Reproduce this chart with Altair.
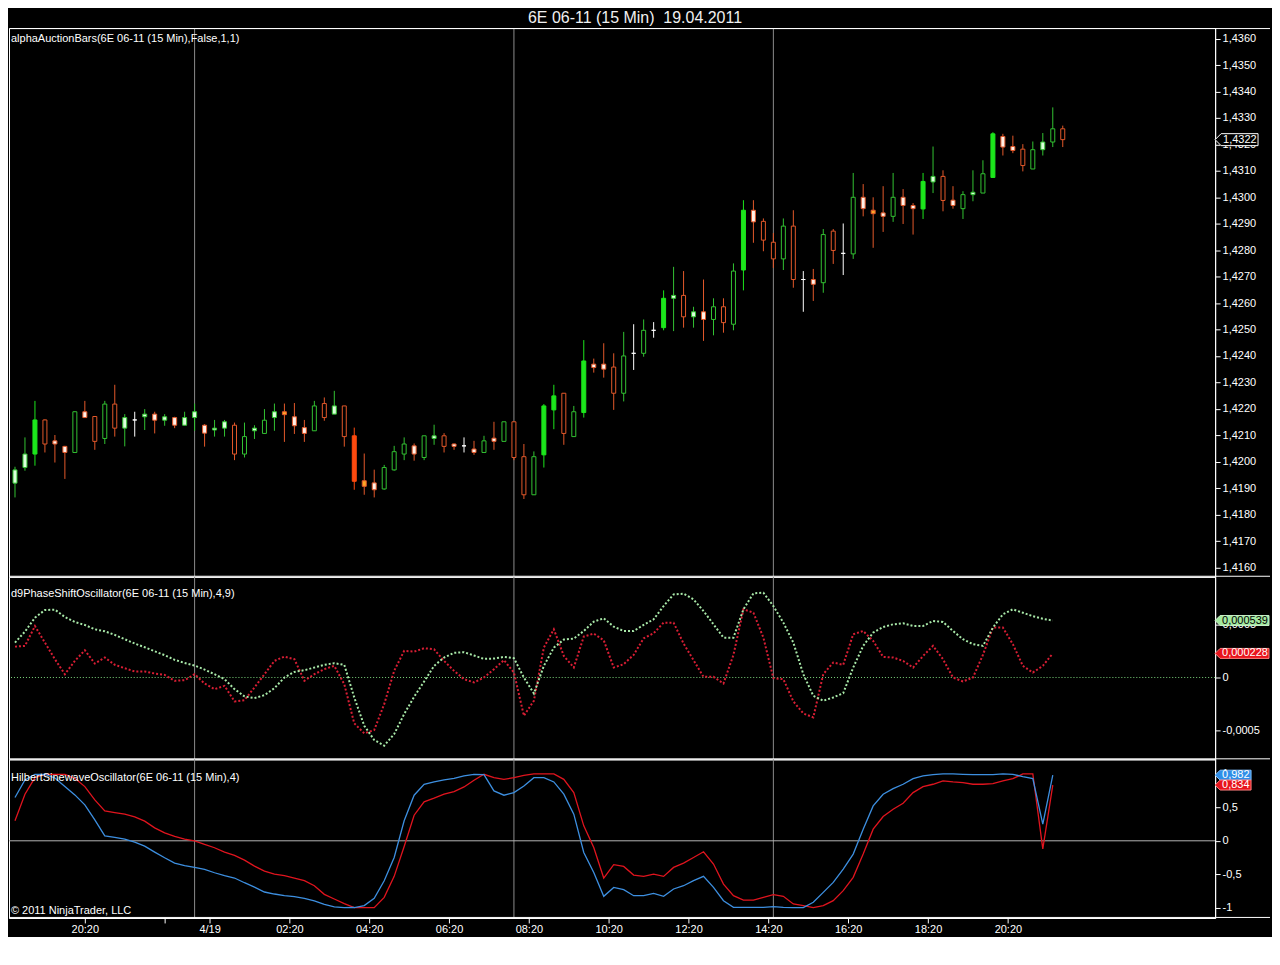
import altair as alt
import pandas as pd

TITLE = "6E 06-11 (15 Min)\u00a0 19.04.2011"
PANEL1 = "alphaAuctionBars(6E 06-11 (15 Min),False,1,1)"
PANEL2 = "d9PhaseShiftOscillator(6E 06-11 (15 Min),4,9)"
PANEL3 = "HilbertSinewaveOscillator(6E 06-11 (15 Min),4)"
COPYRIGHT = "\u00a9 2011 NinjaTrader, LLC"

opens = [1.41919, 1.41978, 1.42029, 1.42158, 1.42079, 1.42058, 1.42035, 1.42189, 1.42171, 1.42088,
         1.42218, 1.42127, 1.42158, 1.42170, 1.42180, 1.42157, 1.42167, 1.42138, 1.42167, 1.42138,
         1.42120, 1.42127, 1.42138, 1.42029, 1.42117, 1.42107, 1.42167, 1.42189, 1.42170, 1.42129,
         1.42117, 1.42220, 1.42180, 1.42211, 1.42098, 1.41928, 1.41920, 1.41897, 1.41969, 1.42029,
         1.42060, 1.42016, 1.42088, 1.42098, 1.42067, 1.42060, 1.42048, 1.42035, 1.42089, 1.42077,
         1.42151, 1.42019, 1.41875, 1.42026, 1.42196, 1.42259, 1.42095, 1.42186, 1.42369, 1.42369,
         1.42358, 1.42259, 1.42410, 1.42410, 1.42497, 1.42507, 1.42618, 1.42629, 1.42548, 1.42567,
         1.42538, 1.42586, 1.42520, 1.42725, 1.42951, 1.42909, 1.42830, 1.42767, 1.42891, 1.42689,
         1.42689, 1.42677, 1.42872, 1.42788, 1.42786, 1.43000, 1.42951, 1.42941, 1.42928, 1.43000,
         1.42969, 1.42956, 1.43058, 1.43079, 1.42989, 1.42957, 1.43010, 1.43016, 1.43075, 1.43230,
         1.43192, 1.43182, 1.43107, 1.43180, 1.43209, 1.43259]
highs = [1.41981, 1.42092, 1.42230, 1.42160, 1.42101, 1.42060, 1.42190, 1.42230, 1.42171, 1.42230,
         1.42291, 1.42180, 1.42189, 1.42199, 1.42189, 1.42180, 1.42170, 1.42189, 1.42220, 1.42142,
         1.42158, 1.42158, 1.42148, 1.42148, 1.42138, 1.42199, 1.42220, 1.42220, 1.42222, 1.42158,
         1.42230, 1.42243, 1.42268, 1.42211, 1.42129, 1.42031, 1.41970, 1.41988, 1.42060, 1.42092,
         1.42069, 1.42098, 1.42140, 1.42108, 1.42069, 1.42092, 1.42079, 1.42098, 1.42151, 1.42151,
         1.42151, 1.42067, 1.42039, 1.42218, 1.42291, 1.42259, 1.42211, 1.42460, 1.42390, 1.42448,
         1.42410, 1.42491, 1.42520, 1.42538, 1.42528, 1.42648, 1.42737, 1.42721, 1.42586, 1.42689,
         1.42618, 1.42618, 1.42750, 1.42989, 1.42989, 1.42920, 1.42865, 1.42920, 1.42951, 1.42721,
         1.42729, 1.42880, 1.42880, 1.42901, 1.43092, 1.43050, 1.43000, 1.43042, 1.43092, 1.43031,
         1.42978, 1.43092, 1.43192, 1.43102, 1.43042, 1.43023, 1.43102, 1.43140, 1.43246, 1.43240,
         1.43233, 1.43201, 1.43211, 1.43243, 1.43340, 1.43271]
lows = [1.41865, 1.41966, 1.41985, 1.42035, 1.41997, 1.41935, 1.42035, 1.42167, 1.42045, 1.42067,
        1.42095, 1.42058, 1.42095, 1.42120, 1.42107, 1.42136, 1.42127, 1.42138, 1.42117, 1.42057,
        1.42095, 1.42095, 1.42006, 1.42016, 1.42086, 1.42107, 1.42117, 1.42075, 1.42105, 1.42075,
        1.42117, 1.42155, 1.42180, 1.42057, 1.41894, 1.41875, 1.41865, 1.41894, 1.41966, 1.42006,
        1.42004, 1.42006, 1.42064, 1.42035, 1.42045, 1.42035, 1.42026, 1.42035, 1.42045, 1.42077,
        1.42006, 1.41859, 1.41875, 1.41978, 1.42123, 1.42064, 1.42095, 1.42167, 1.42337, 1.42318,
        1.42196, 1.42228, 1.42347, 1.42397, 1.42469, 1.42497, 1.42494, 1.42507, 1.42507, 1.42457,
        1.42478, 1.42488, 1.42497, 1.42648, 1.42828, 1.42796, 1.42733, 1.42725, 1.42658, 1.42567,
        1.42608, 1.42639, 1.42748, 1.42706, 1.42767, 1.42928, 1.42809, 1.42869, 1.42907, 1.42899,
        1.42859, 1.42918, 1.43016, 1.42947, 1.42957, 1.42918, 1.42985, 1.43016, 1.43075, 1.43158,
        1.43167, 1.43098, 1.43107, 1.43158, 1.43190, 1.43190]
closes = [1.41969, 1.42029, 1.42158, 1.42067, 1.42067, 1.42035, 1.42189, 1.42167, 1.42077, 1.42218,
          1.42127, 1.42167, 1.42158, 1.42180, 1.42157, 1.42170, 1.42138, 1.42167, 1.42189, 1.42108,
          1.42127, 1.42151, 1.42029, 1.42095, 1.42127, 1.42157, 1.42189, 1.42178, 1.42136, 1.42107,
          1.42211, 1.42167, 1.42211, 1.42095, 1.41926, 1.41907, 1.41894, 1.41978, 1.42038, 1.42067,
          1.42029, 1.42098, 1.42098, 1.42058, 1.42058, 1.42060, 1.42035, 1.42079, 1.42077, 1.42151,
          1.42016, 1.41875, 1.42019, 1.42211, 1.42249, 1.42107, 1.42189, 1.42381, 1.42356, 1.42350,
          1.42259, 1.42400, 1.42410, 1.42497, 1.42497, 1.42618, 1.42629, 1.42548, 1.42567, 1.42538,
          1.42586, 1.42526, 1.42721, 1.42951, 1.42907, 1.42838, 1.42767, 1.42891, 1.42689, 1.42689,
          1.42671, 1.42859, 1.42799, 1.42788, 1.43000, 1.42957, 1.42938, 1.42928, 1.43000, 1.42969,
          1.42957, 1.43060, 1.43079, 1.42988, 1.42969, 1.43010, 1.43019, 1.43089, 1.43240, 1.43190,
          1.43177, 1.43120, 1.43180, 1.43209, 1.43259, 1.43218]
kinds = ["upSmall", "upSmall", "upStrong", "down", "downSmall", "downSmall", "up", "downSmall", "down", "up",
         "down", "upSmall", "doji", "upSmall", "downSmall", "upSmall", "downSmall", "upSmall", "upSmall", "downSmall",
         "upSmall", "upSmall", "down", "up", "upSmall", "up", "upSmall", "downMid", "downSmall", "downSmall",
         "up", "down", "upSmall", "down", "downStrong", "downMid", "downSmall", "up", "up", "up",
         "downSmall", "up", "upSmall", "down", "downSmall", "doji", "downSmall", "up", "downSmall", "up",
         "down", "down", "up", "upStrong", "upStrong", "down", "up", "upStrong", "downSmall", "downSmall",
         "down", "up", "doji", "up", "doji", "upStrong", "upSmall", "down", "upSmall", "downSmall",
         "up", "down", "up", "upStrong", "downSmall", "down", "down", "up", "down", "doji",
         "downSmall", "up", "down", "doji", "up", "downSmall", "downMid", "downSmall", "up", "downSmall",
         "downSmall", "upStrong", "upSmall", "down", "downSmall", "up", "upSmall", "up", "upStrong", "downSmall",
         "downSmall", "down", "up", "upSmall", "up", "down"]

pso_fast = [0.000330, 0.000434, 0.000566, 0.000638, 0.000642, 0.000572, 0.000525, 0.000497, 0.000456, 0.000437,
            0.000403, 0.000362, 0.000321, 0.000286, 0.000248, 0.000211, 0.000167, 0.000138, 0.000113, 0.000075,
            0.000031, -0.000016, -0.000110, -0.000179, -0.000195, -0.000167, -0.000101, 0.000000, 0.000053, 0.000069,
            0.000094, 0.000120, 0.000135, 0.000120, -0.000189, -0.000456, -0.000591, -0.000645, -0.000535, -0.000346,
            -0.000182, -0.000038, 0.000110, 0.000189, 0.000233, 0.000239, 0.000208, 0.000176, 0.000179, 0.000195,
            0.000182, 0.000000, -0.000151, 0.000110, 0.000283, 0.000359, 0.000368, 0.000440, 0.000528, 0.000560,
            0.000481, 0.000440, 0.000440, 0.000497, 0.000550, 0.000676, 0.000786, 0.000793, 0.000739, 0.000629,
            0.000503, 0.000377, 0.000377, 0.000645, 0.000796, 0.000802, 0.000676, 0.000519, 0.000330, 0.000031,
            -0.000173, -0.000220, -0.000189, -0.000148, 0.000094, 0.000299, 0.000425, 0.000478, 0.000503, 0.000513,
            0.000487, 0.000487, 0.000535, 0.000525, 0.000440, 0.000362, 0.000315, 0.000299, 0.000472, 0.000598,
            0.000645, 0.000613, 0.000580, 0.000555, 0.000539]
pso_slow = [0.000292, 0.000299, 0.000487, 0.000330, 0.000173, 0.000031, 0.000157, 0.000258, 0.000132, 0.000189,
            0.000120, 0.000088, 0.000057, 0.000057, 0.000038, 0.000025, -0.000031, -0.000025, 0.000031, -0.000057,
            -0.000110, -0.000079, -0.000226, -0.000214, -0.000094, 0.000031, 0.000157, 0.000198, 0.000173, -0.000031,
            0.000031, 0.000079, 0.000110, -0.000063, -0.000434, -0.000528, -0.000497, -0.000252, 0.000063, 0.000252,
            0.000245, 0.000277, 0.000267, 0.000157, 0.000063, -0.000016, -0.000047, 0.000000, 0.000079, 0.000164,
            0.000047, -0.000362, -0.000220, 0.000283, 0.000456, 0.000204, 0.000094, 0.000387, 0.000415, 0.000352,
            0.000094, 0.000126, 0.000214, 0.000371, 0.000418, 0.000519, 0.000519, 0.000321, 0.000164, 0.000006,
            0.000006, -0.000057, 0.000214, 0.000645, 0.000613, 0.000377, -0.000006, -0.000016, -0.000226, -0.000340,
            -0.000377, 0.000031, 0.000142, 0.000120, 0.000409, 0.000440, 0.000346, 0.000195, 0.000189, 0.000157,
            0.000094, 0.000204, 0.000299, 0.000173, 0.000000, -0.000038, 0.000000, 0.000214, 0.000472, 0.000472,
            0.000315, 0.000110, 0.000047, 0.000110, 0.000228]

sine_blue = [0.647, 0.910, 0.995, 0.995, 0.940, 0.811, 0.687, 0.537, 0.313, 0.075,
             0.050, 0.025, -0.020, -0.080, -0.169, -0.254, -0.333, -0.373, -0.398, -0.428,
             -0.478, -0.522, -0.557, -0.627, -0.692, -0.766, -0.796, -0.821, -0.836, -0.861,
             -0.900, -0.950, -0.990, -1.000, -0.998, -0.970, -0.861, -0.597, -0.249, 0.299,
             0.682, 0.846, 0.881, 0.910, 0.935, 0.970, 0.995, 0.990, 0.746, 0.682,
             0.721, 0.821, 0.945, 0.945, 0.881, 0.697, 0.398, -0.174, -0.473, -0.831,
             -0.697, -0.731, -0.821, -0.821, -0.786, -0.831, -0.721, -0.672, -0.597, -0.532,
             -0.697, -0.896, -0.995, -0.995, -0.995, -0.995, -0.985, -0.995, -1.000, -1.000,
             -0.920, -0.771, -0.622, -0.423, -0.199, 0.174, 0.522, 0.697, 0.781, 0.846,
             0.930, 0.970, 0.990, 1.000, 1.000, 0.995, 0.990, 0.990, 0.990, 1.000,
             0.995, 0.960, 0.930, 0.250, 0.982]
sine_red = [0.299, 0.697, 0.945, 0.995, 0.995, 0.995, 0.935, 0.811, 0.612, 0.448,
            0.423, 0.398, 0.358, 0.294, 0.194, 0.119, 0.065, 0.025, 0.000, -0.055,
            -0.104, -0.169, -0.219, -0.289, -0.378, -0.453, -0.498, -0.522, -0.557, -0.597,
            -0.672, -0.801, -0.871, -0.940, -1.000, -1.000, -1.000, -0.846, -0.532, -0.085,
            0.383, 0.582, 0.637, 0.697, 0.736, 0.806, 0.905, 0.995, 0.945, 0.920,
            0.945, 0.980, 1.000, 1.000, 1.000, 0.920, 0.721, 0.224, -0.100, -0.557,
            -0.358, -0.383, -0.512, -0.532, -0.498, -0.532, -0.398, -0.333, -0.249, -0.164,
            -0.348, -0.647, -0.821, -0.886, -0.886, -0.846, -0.806, -0.831, -0.945, -0.970,
            -1.000, -0.970, -0.896, -0.746, -0.547, -0.199, 0.174, 0.363, 0.473, 0.562,
            0.721, 0.811, 0.846, 0.896, 0.881, 0.871, 0.846, 0.846, 0.856, 0.896,
            0.930, 1.000, 1.000, -0.120, 0.834]

tick_pos = [7, 15, 19.5, 27.5, 35.5, 43.5, 51.5, 59.5, 67.5, 75.5, 83.5, 91.5, 99.5]
tick_text = ["20:20", "", "4/19", "02:20", "04:20", "06:20", "08:20", "10:20",
             "12:20", "14:20", "16:20", "18:20", "20:20"]
session_lines = [18, 50, 76]
price_ticks = [1.416, 1.417, 1.418, 1.419, 1.420, 1.421, 1.422, 1.423, 1.424, 1.425, 1.426,
               1.427, 1.428, 1.429, 1.430, 1.431, 1.432, 1.433, 1.434, 1.435, 1.436]
pso_ticks = [-0.0005, 0, 0.0005]
hso_ticks = [-1, -0.5, 0, 0.5, 1]

# ---------------- layout / style ----------------
FONT = "Liberation Sans"
W = 1209
H1, H2, H3 = 550, 183, 159
X_DOMAIN = [-0.6, 120.27]
PRICE_DOMAIN = [1.41565, 1.43640]
PSO_DOMAIN = [-0.000774, 0.000953]
HSO_DOMAIN = [-1.154, 1.219]
FULL = 1264

xs = alt.Scale(domain=X_DOMAIN, nice=False, zero=False)
ps = alt.Scale(domain=PRICE_DOMAIN, nice=False, zero=False)
os_ = alt.Scale(domain=PSO_DOMAIN, nice=False, zero=False)
hs = alt.Scale(domain=HSO_DOMAIN, nice=False, zero=False)

price_axis = alt.Axis(orient="right", values=price_ticks, title=None,
                      labelExpr="replace(format(datum.value, '.4f'), '.', ',')")
pso_axis = alt.Axis(orient="right", values=pso_ticks, title=None,
                    labelExpr="replace(toString(datum.value), '.', ',')")
hso_axis = alt.Axis(orient="right", values=hso_ticks, title=None,
                    labelExpr="replace(toString(datum.value), '.', ',')")
label_js = "[" + ",".join("'" + t + "'" for t in tick_text) + "]"
pos_js = "[" + ",".join(str(p) for p in tick_pos) + "]"
x_axis = alt.Axis(values=tick_pos, title=None, labelOverlap=False, labelFlush=False,
                  labelPadding=1, labelExpr=label_js + "[indexof(" + pos_js + ", datum.value)]")

kind_names = ["up", "upStrong", "upSmall", "down", "downStrong", "downMid", "downSmall", "doji"]
kind_stroke = ["#32c232", "#1ce61c", "#32c232", "#e3582a", "#ff4b0f", "#e3582a", "#e3582a", "#ffffff"]
kind_fill = ["#000000", "#1ce61c", "#dcffdc", "#000000", "#ff4b0f", "#ffa726", "#fff1e8", "#ffffff"]

bars = pd.DataFrame({"i": list(range(len(opens))), "open": opens, "high": highs,
                     "low": lows, "close": closes, "kind": kinds})
vdf = pd.DataFrame({"x": session_lines})
one = pd.DataFrame({"d": [0]})


def series_df(values):
    return pd.DataFrame({"i": list(range(len(values))), "v": values})


def vrules(axis=None):
    return alt.Chart(vdf).mark_rule(color="#8c8c8c", strokeWidth=1).encode(
        x=alt.X("x:Q", scale=xs, axis=axis))


def hline(y):
    return alt.Chart(one).mark_rule(color="#ffffff", strokeWidth=1).encode(
        x=alt.value(0.5), x2=alt.value(FULL), y=alt.value(y))


def caption(text, y):
    return alt.Chart(pd.DataFrame({"t": [text]})).mark_text(
        align="left", baseline="middle", font=FONT, fontSize=11, color="#ffffff"
    ).encode(x=alt.value(2), y=alt.value(y), text="t:N")


def value_box(value, text, scale, axis, fill, stroke, tcolor, width, half):
    d = pd.DataFrame({"v": [value], "t": [text]})
    path = "M0,0L{h},-{h}L{w},-{h}L{w},{h}L{h},{h}Z".format(h=half, w=width)
    box = alt.Chart(d).mark_point(shape=path, size=4, filled=True, fill=fill, stroke=stroke,
                                  strokeWidth=1, opacity=1).encode(
        x=alt.value(W), y=alt.Y("v:Q", scale=scale, axis=axis))
    txt = alt.Chart(d).mark_text(align="left", baseline="middle", font=FONT, fontSize=11,
                                 color=tcolor).encode(
        x=alt.value(W + half + 2), y=alt.Y("v:Q", scale=scale, axis=axis), text="t:N")
    return [box, txt]


def line(values, scale, axis, xaxis, color, width, dash=None):
    kw = dict(strokeWidth=width, color=color)
    if dash:
        kw["strokeDash"] = dash
    return alt.Chart(series_df(values)).mark_line(**kw).encode(
        x=alt.X("i:Q", scale=xs, axis=xaxis),
        y=alt.Y("v:Q", scale=scale, axis=axis),
        order="i:Q")


# ---------------- top: candles ----------------
wicks = alt.Chart(bars).mark_rule(strokeWidth=1).encode(
    x=alt.X("i:Q", scale=xs, axis=None),
    y=alt.Y("low:Q", scale=ps, axis=price_axis),
    y2="high:Q",
    color=alt.Color("kind:N", scale=alt.Scale(domain=kind_names, range=kind_stroke), legend=None))
bodies = alt.Chart(bars).transform_calculate(
    xl="datum.i - 0.2", xr="datum.i + 0.2"
).mark_rect(strokeWidth=1).encode(
    x=alt.X("xl:Q", scale=xs, axis=None), x2="xr:Q",
    y=alt.Y("open:Q", scale=ps, axis=price_axis), y2="close:Q",
    fill=alt.Fill("kind:N", scale=alt.Scale(domain=kind_names, range=kind_fill), legend=None),
    stroke=alt.Stroke("kind:N", scale=alt.Scale(domain=kind_names, range=kind_stroke), legend=None))
title_txt = alt.Chart(pd.DataFrame({"t": [TITLE]})).mark_text(
    align="center", baseline="middle", font=FONT, fontSize=16, color="#f0f0f0"
).encode(x=alt.value(627.5), y=alt.value(-10), text="t:N")
last_close = closes[-1]
price_box = value_box(last_close, ("%.4f" % last_close).replace(".", ","), ps, price_axis,
                      "#000000", "#ffffff", "#ffffff", 43, 6)
top = alt.layer(vrules(), hline(0.5), wicks, bodies, caption(PANEL1, 11), title_txt,
                *price_box, hline(H1 - 0.5)).properties(width=W, height=H1)

# ---------------- middle: phase shift oscillator ----------------
zero_mid = alt.Chart(one).mark_rule(color="#7cd67c", strokeWidth=1, strokeDash=[1, 2]).encode(
    y=alt.Y("d:Q", scale=os_, axis=pso_axis))
mid_boxes = (value_box(pso_fast[-1], ("%.6f" % pso_fast[-1]).replace(".", ","), os_, pso_axis,
                       "#a4e8a0", "#c8f0c8", "#000000", 54, 5)
             + value_box(pso_slow[-1], ("%.6f" % pso_slow[-1]).replace(".", ","), os_, pso_axis,
                         "#e8141c", "#ff8080", "#ffffff", 54, 5))
mid = alt.layer(
    vrules(), zero_mid,
    line(pso_slow, os_, pso_axis, None, "#d81e34", 2, [2, 2]),
    line(pso_fast, os_, pso_axis, None, "#a8e8a8", 2, [2, 2]),
    caption(PANEL2, 17), *mid_boxes, hline(H2 - 0.5)
).properties(width=W, height=H2)

# ---------------- bottom: Hilbert sine wave oscillator ----------------
zero_bot = alt.Chart(one).mark_rule(color="#b4b4b4", strokeWidth=1).encode(
    y=alt.Y("d:Q", scale=hs, axis=hso_axis))
bot_boxes = (value_box(sine_blue[-1], ("%.3f" % sine_blue[-1]).replace(".", ","), hs, hso_axis,
                       "#2e8ee8", "#80c0ff", "#ffffff", 36, 5)
             + value_box(sine_red[-1], ("%.3f" % sine_red[-1]).replace(".", ","), hs, hso_axis,
                         "#e8141c", "#ff8080", "#ffffff", 36, 5))
bot = alt.layer(
    vrules(x_axis), zero_bot,
    line(sine_red, hs, hso_axis, x_axis, "#e0141e", 1.3),
    line(sine_blue, hs, hso_axis, x_axis, "#3d8fe0", 1.3),
    caption(PANEL3, 19), caption(COPYRIGHT, H3 - 7), hline(H3 - 0.5), *bot_boxes
).properties(width=W, height=H3)

chart = alt.vconcat(top, mid, bot, spacing=0, bounds="flush").properties(
    background="#000000", padding=0
).configure_view(stroke="#ffffff", strokeWidth=1).configure_axis(
    labelFont=FONT, labelFontSize=11, labelColor="#ffffff", tickColor="#ffffff",
    domainColor="#ffffff", tickSize=5, grid=False, labelPadding=2
).configure_concat(spacing=0)

chart.save("out.html", embed_options={"renderer": "svg", "actions": False})
